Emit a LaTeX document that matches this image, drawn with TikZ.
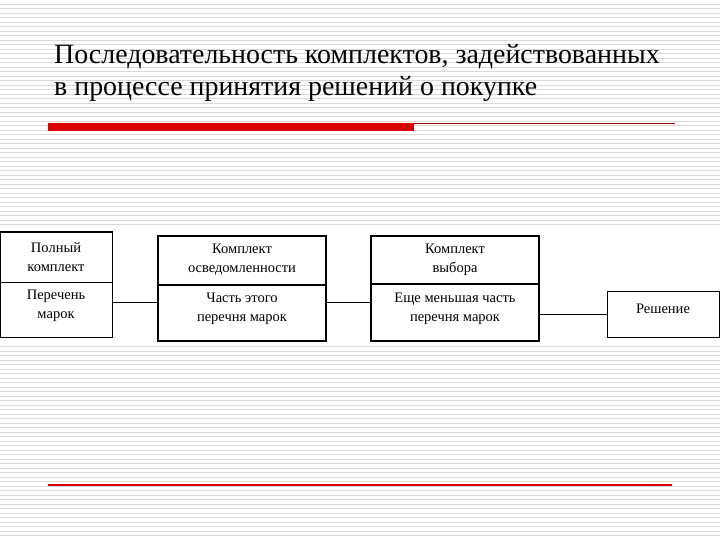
\documentclass[tikz,border=0pt]{standalone}
\usepackage{fontspec}
\setmainfont{Liberation Serif}
\begin{document}
\begin{tikzpicture}[x=1pt,y=-1pt,
  lbl/.style={font=\fontsize{14.5}{19}\selectfont,align=center,inner sep=0pt},
  ttl/.style={anchor=west,inner sep=0pt,font=\fontsize{27.9}{32}\selectfont},
  conn/.style={draw=black,line width=1pt}]
\useasboundingbox (0,0) rectangle (720,540);
\fill[white] (0,0) rectangle (720,540);
\foreach \y in {0,4.5,...,540} \draw[gray!30,line width=1pt] (0,\y) -- (720,\y);
\fill[white] (0,229) rectangle (720,345);
\node[ttl] (t1) at (54,57) {Последовательность комплектов, задействованных};
\node[ttl] (t2) at (54,89) {в процессе принятия решений о покупке};
\fill[red!85!black] (48,123) rectangle (414,131);
\draw[red!60!black,line width=1pt] (414,123.5) -- (675,123.5);
\draw[red!85!black,line width=1.2pt] (48,485) -- (672,485);
% box1
\draw[line width=1pt] (0,232) rectangle (112,337);
\draw[line width=1pt] (0,282) -- (112,282);
\node[lbl] (a1) at (56,257) {Полный\\комплект};
\node[lbl] (a2) at (56,306) {Перечень\\марок};
% box2
\draw[line width=1.4pt] (158,236) rectangle (326,341);
\draw[line width=1.4pt] (158,285) -- (326,285);
\node[lbl] (b1) at (242,260) {Комплект\\осведомленности};
\node[lbl] (b2) at (242,309) {Часть этого\\перечня марок};
% box3
\draw[line width=1.4pt] (371,236) rectangle (539,341);
\draw[line width=1.4pt] (371,284) -- (539,284);
\node[lbl] (c1) at (455,260) {Комплект\\выбора};
\node[lbl] (c2) at (455,309) {Еще меньшая часть\\перечня марок};
% box4
\draw[line width=1pt] (607,291) rectangle (719,337);
\node[lbl] (d) at (663,309) {Решение};
\coordinate (p1) at (112,302); \coordinate (p2) at (158,302);
\coordinate (p3) at (326,302); \coordinate (p4) at (371,302);
\coordinate (p5) at (539,314); \coordinate (p6) at (607,314);
\draw[conn] (p1) -- (p2); \draw[conn] (p3) -- (p4); \draw[conn] (p5) -- (p6);
\end{tikzpicture}
\end{document}
